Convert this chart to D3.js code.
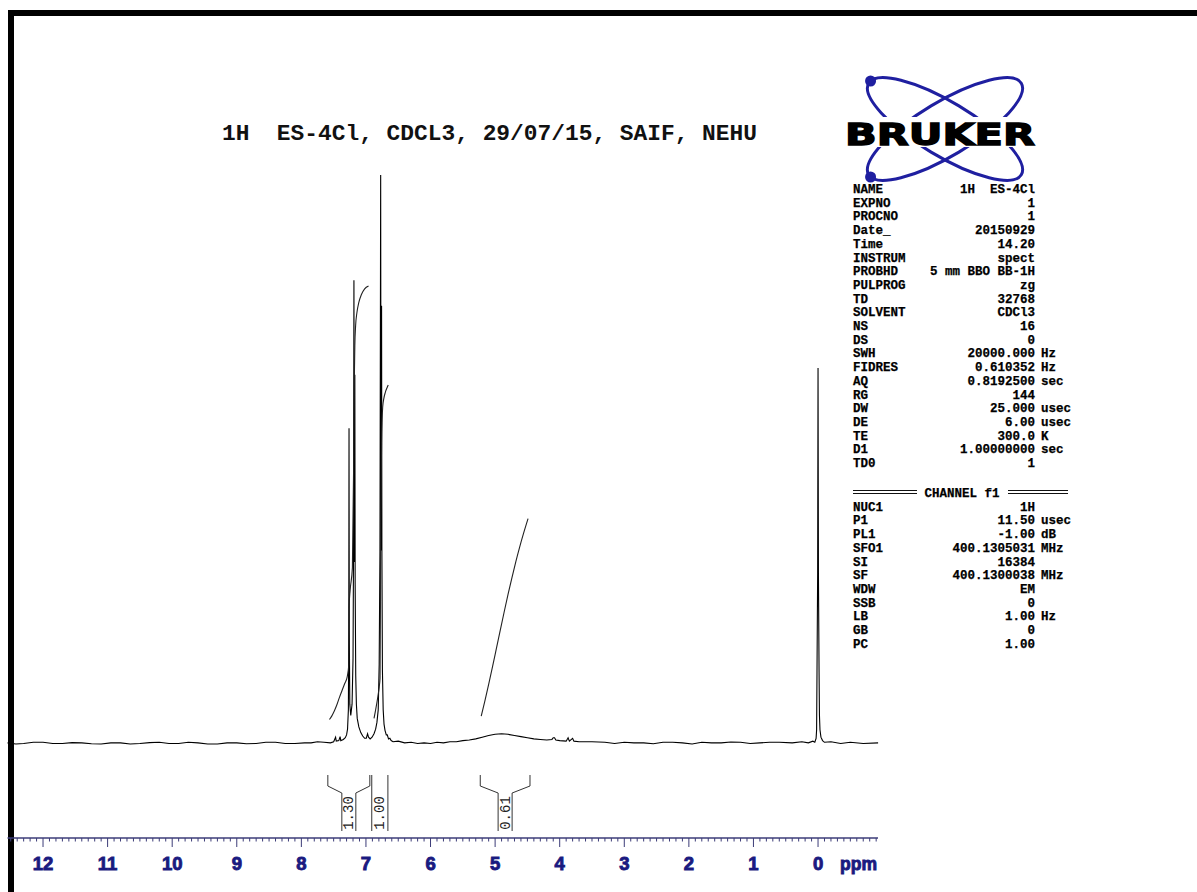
<!DOCTYPE html>
<html>
<head>
<meta charset="utf-8">
<script src="https://cdn.jsdelivr.net/npm/d3@7"></script>
<style>
  html, body { margin: 0; padding: 0; background: #fff; }
  svg { display: block; }
  text { white-space: pre; }
</style>
</head>
<body>
<svg id="chart" width="1197" height="892"></svg>
<script>
// ---- 1H spectrum trace: chemical shift (ppm) and relative intensity (tallest line = 100)
const tracePpm = [12.55,12.42,12.3,12.15,12.0,11.85,11.7,11.55,11.4,11.25,11.1,10.95,10.8,10.65,10.5,10.35,10.2,10.05,9.9,9.75,9.6,9.45,9.3,9.15,9.0,8.85,8.7,8.55,8.4,8.25,8.1,7.95,7.85,7.75,7.65,7.55,7.5,7.47,7.46,7.42,7.40,7.39,7.35,7.32,
  7.30,7.285,7.272,7.266,7.262,7.258,7.25,7.235,7.215,7.2,7.192,7.186,7.181,7.177,7.172,7.167,7.158,7.148,7.135,7.11,7.08,7.05,7.02,6.995,6.975,6.96,6.935,6.905,
  6.875,6.85,6.83,6.81,6.795,6.783,6.772,6.767,6.763,6.758,6.753,6.745,6.733,6.72,6.705,6.685,6.67,6.65,6.63,6.61,6.58,
  6.5,6.4,6.3,6.2,6.1,6.0,5.9,5.8,5.7,5.6,5.5,5.4,5.3,5.2,5.1,5.0,4.9,4.8,4.7,4.6,4.5,4.4,4.3,4.2,4.12,4.1,4.08,4.06,4.0,3.9,3.87,3.85,3.8,3.78,3.7,
  3.5,3.3,3.15,3.0,2.85,2.7,2.55,2.4,2.25,2.1,1.95,1.8,1.65,1.5,1.35,1.2,1.05,0.9,0.75,0.6,0.4,0.25,0.15,0.08,0.05,0.03,0.022,0.016,0.006,0.0,-0.006,-0.016,-0.022,-0.03,-0.045,-0.07,-0.1,-0.2,-0.35,-0.5,-0.7,-0.93];
const traceIntensity = [0.2,0.0,0.1,0.3,0.3,0.1,0.1,0.25,0.2,0.05,0.0,0.2,0.2,0.0,0.1,0.25,0.3,0.1,0.1,0.3,0.2,0.0,0.0,0.2,0.2,0.05,0.1,0.3,0.3,0.1,0.1,0.2,0.2,0.4,0.3,0.2,0.4,1.2,0.5,0.6,1.3,0.6,0.8,1.1,
  1.6,2.6,6,20,55.5,20,7,5,7,15,35,81.5,38,32,64.9,28,12,7,4.5,3,2,1.4,1.0,1.0,1.8,1.2,0.9,1.2,
  1.8,2.6,3.8,6,14,34,100,42,34,77,34,13,6,3.5,2.4,1.6,1.6,0.9,1.0,0.6,0.4,
  0.5,0.2,0.3,0.1,0.2,0.1,0.3,0.2,0.4,0.4,0.6,0.7,0.9,1.2,1.5,1.7,1.8,1.7,1.5,1.3,1.1,0.9,0.8,0.7,0.8,1.1,1.1,0.7,0.6,0.5,1.1,0.5,1.0,0.5,0.4,
  0.4,0.3,0.1,0.3,0.2,0.2,0.05,0.3,0.3,0.2,0.0,0.3,0.2,0.2,0.35,0.3,0.1,0.2,0.3,0.3,0.2,0.4,0.2,0.5,0.3,1.0,2.5,12.6,30,66.1,30,12.6,5,2.5,1.2,0.6,0.3,0.4,0.1,0.3,0.1,0.2];

// ---- integral curves (same intensity units)
const integral1Ppm = [7.565,7.53,7.49,7.45,7.41,7.37,7.33,7.29,7.265,7.262,7.245,7.21,7.19,7.18,7.172,7.16,7.14,7.11,7.07,7.02,6.96];
const integral1Val = [4.3,4.9,5.8,6.9,8.2,9.4,10.6,11.8,14,24,27,31,50,64,70,73.5,75.8,77.6,79,80,80.5];
const integral2Ppm = [6.875,6.85,6.82,6.795,6.782,6.775,6.772,6.765,6.758,6.75,6.74,6.725,6.7,6.67,6.655];
const integral2Val = [4.5,6,8,10,11.5,25,38,44,53,57,59.3,60.6,61.8,62.7,63.1];
const integral3Ppm = [5.215,5.16,5.1,5.04,4.98,4.92,4.86,4.8,4.74,4.68,4.62,4.56,4.49];
const integral3Val = [4.9,7.5,10.5,13.6,16.8,20,23.2,26.3,29.2,32,34.6,37,39.6];

// integration regions (ppm, from -> to) and their values
const integralFrom = [7.59, 6.91, 5.23];
const integralTo = [6.94, 6.66, 4.46];
const integralLabels = ["1.30", "1.00", "0.61"];

// ---- axis
const tickValues = [12, 11, 10, 9, 8, 7, 6, 5, 4, 3, 2, 1, 0];
const tickLabels = ["12", "11", "10", "9", "8", "7", "6", "5", "4", "3", "2", "1", "0"];
const axisUnit = "ppm";

// ---- title and parameter listing
const titleText = "1H  ES-4Cl, CDCL3, 29/07/15, SAIF, NEHU";
const acqNames = ["NAME","EXPNO","PROCNO","Date_","Time","INSTRUM","PROBHD","PULPROG","TD","SOLVENT","NS","DS","SWH","FIDRES","AQ","RG","DW","DE","TE","D1","TD0"];
const acqValues = ["1H  ES-4Cl","1","1","20150929","14.20","spect","5 mm BBO BB-1H","zg","32768","CDCl3","16","0","20000.000","0.610352","0.8192500","144","25.000","6.00","300.0","1.00000000","1"];
const acqUnits = ["","","","","","","","","","","","","Hz","Hz","sec","","usec","usec","K","sec",""];
const channelTitle = "CHANNEL f1";
const chanNames = ["NUC1","P1","PL1","SFO1","SI","SF","WDW","SSB","LB","GB","PC"];
const chanValues = ["1H","11.50","-1.00","400.1305031","16384","400.1300038","EM","0","1.00","0","1.00"];
const chanUnits = ["","usec","dB","MHz","","MHz","","","Hz","",""];
const brandName = "BRUKER";

// ---------------------------------------------------------------
const svg = d3.select("#chart");
svg.append("rect").attr("width", 1197).attr("height", 892).attr("fill", "#fff");

// frame (top and left edges)
svg.append("rect").attr("x", 8).attr("y", 10).attr("width", 1189).attr("height", 6).attr("fill", "#000");
svg.append("rect").attr("x", 8).attr("y", 10).attr("width", 6).attr("height", 882).attr("fill", "#000");

const x = d3.scaleLinear().domain([12.55, -0.93]).range([7.5, 878.1]);
const y = d3.scaleLinear().domain([0, 100]).range([744, 175]);

const line = d3.line().x(d => x(d[0])).y(d => y(d[1]));

// spectrum
const trace = d3.zip(tracePpm, traceIntensity);
svg.append("path").datum(trace)
  .attr("d", line).attr("fill", "none").attr("stroke", "#000").attr("stroke-width", 1.1);

// integral curves
[[integral1Ppm, integral1Val], [integral2Ppm, integral2Val], [integral3Ppm, integral3Val]].forEach(([p, v]) => {
  svg.append("path").datum(d3.zip(p, v))
    .attr("d", d3.line().x(d => x(d[0])).y(d => y(d[1])).curve(d3.curveMonotoneX))
    .attr("fill", "none").attr("stroke", "#222").attr("stroke-width", 1.1);
});

// integral brackets with values
const bTop = 775, bKnee = 786, bInner = 793, bBottom = 831, stemHalf = 7;
const brackets = svg.append("g").attr("stroke", "#333").attr("fill", "none").attr("stroke-width", 1);
integralLabels.forEach((lab, i) => {
  const xa = x(integralFrom[i]), xb = x(integralTo[i]);
  const mid = (xa + xb) / 2;
  let d;
  if ((xb - xa) / 2 <= stemHalf + 1.5) {
    d = `M${xa},${bTop}V${bBottom}M${xb},${bTop}V${bBottom}`;
  } else {
    d = `M${xa},${bTop}V${bKnee}L${mid - stemHalf},${bInner}V${bBottom}` +
        `M${xb},${bTop}V${bKnee}L${mid + stemHalf},${bInner}V${bBottom}`;
  }
  brackets.append("path").attr("d", d);
  svg.append("text")
    .attr("transform", `translate(${mid + 0.5},${(bInner + bBottom) / 2 + 1}) rotate(-90)`)
    .attr("text-anchor", "middle").attr("dominant-baseline", "central")
    .attr("font-family", "Liberation Mono, Courier New, monospace")
    .attr("font-size", 14).attr("fill", "#222").text(lab);
});

// ppm axis
const axisY = 838;
const ax = svg.append("g");
ax.append("line").attr("x1", 7.5).attr("x2", 878).attr("y1", axisY).attr("y2", axisY)
  .attr("stroke", "#3c3c78").attr("stroke-width", 1.3);
const minor = d3.range(125, -10, -1).map(v => v / 10);
ax.selectAll("line.minor").data(minor).join("line")
  .attr("x1", d => x(d)).attr("x2", d => x(d))
  .attr("y1", axisY).attr("y2", d => Math.abs(d - Math.round(d)) < 1e-6 ? axisY + 9 : axisY + 3.5)
  .attr("stroke", "#3c3c78").attr("stroke-width", 1);
const tickFont = { family: "Liberation Sans, Arial, sans-serif", size: 18.5, color: "#1a1a80" };
ax.selectAll("text.tick").data(tickValues).join("text")
  .attr("x", d => x(d)).attr("y", 870)
  .attr("text-anchor", "middle")
  .attr("font-family", tickFont.family).attr("font-weight", "bold")
  .attr("font-size", tickFont.size).attr("fill", tickFont.color)
  .attr("stroke", tickFont.color).attr("stroke-width", 0.9)
  .text((d, i) => tickLabels[i]);
ax.append("text").attr("x", 840).attr("y", 870)
  .attr("textLength", 37).attr("lengthAdjust", "spacingAndGlyphs")
  .attr("font-family", tickFont.family).attr("font-weight", "bold")
  .attr("font-size", tickFont.size).attr("fill", tickFont.color)
  .attr("stroke", tickFont.color).attr("stroke-width", 0.9).text(axisUnit);

// title
svg.append("text").attr("x", 222).attr("y", 140)
  .attr("textLength", 535).attr("lengthAdjust", "spacingAndGlyphs")
  .attr("font-family", "Liberation Mono, Courier New, monospace").attr("font-weight", "bold")
  .attr("font-size", 22.5).attr("fill", "#111").text(titleText);

// logo: two crossing orbits with electrons and the brand name
const logo = svg.append("g");
const cx = 945, cy = 129, rx = 89, ry = 27;
[31, -31].forEach(a => {
  logo.append("ellipse").attr("cx", cx).attr("cy", cy).attr("rx", rx).attr("ry", ry)
    .attr("transform", `rotate(${a},${cx},${cy})`)
    .attr("fill", "none").attr("stroke", "#1f1fa0").attr("stroke-width", 3);
});
function orbitPoint(angleDeg, tDeg) {
  const a = angleDeg * Math.PI / 180, t = tDeg * Math.PI / 180;
  const px = rx * Math.cos(t), py = ry * Math.sin(t);
  return [cx + px * Math.cos(a) - py * Math.sin(a), cy + px * Math.sin(a) + py * Math.cos(a)];
}
[orbitPoint(31, 186), orbitPoint(-31, 174)].forEach(p => {
  logo.append("circle").attr("cx", p[0]).attr("cy", p[1]).attr("r", 5.5).attr("fill", "#1f1fa0");
});
logo.append("rect").attr("x", 845).attr("y", 117).attr("width", 192).attr("height", 30).attr("fill", "#fff");
logo.append("text").attr("x", 845).attr("y", 145)
  .attr("textLength", 190).attr("lengthAdjust", "spacingAndGlyphs")
  .attr("font-family", "DejaVu Sans, sans-serif").attr("font-weight", "bold")
  .attr("font-size", 31).attr("fill", "#000").attr("stroke", "#000").attr("stroke-width", 1.4)
  .text(brandName);

// parameter listing
const parFont = "Liberation Mono, Courier New, monospace";
const labelX = 853, valueX = 1035, unitX = 1041, lineH = 13.7;
const pars = svg.append("g").attr("font-family", parFont).attr("font-weight", "bold")
  .attr("font-size", 12.5).attr("fill", "#000").attr("stroke", "#000").attr("stroke-width", 0.25);
function block(names, values, units, baseY) {
  names.forEach((n, i) => {
    const yy = baseY + i * lineH;
    pars.append("text").attr("x", labelX).attr("y", yy).text(n);
    pars.append("text").attr("x", valueX).attr("y", yy).attr("text-anchor", "end").text(values[i]);
    if (units[i]) pars.append("text").attr("x", unitX).attr("y", yy).text(units[i]);
  });
}
block(acqNames, acqValues, acqUnits, 193);
const chanY = 497;
pars.append("text").attr("x", 962).attr("y", chanY).attr("text-anchor", "middle").text(channelTitle);
[[853, 917], [1008, 1068]].forEach(([a, b]) => {
  [490.5, 493.5].forEach(yy => {
    svg.append("line").attr("x1", a).attr("x2", b).attr("y1", yy).attr("y2", yy)
      .attr("stroke", "#111").attr("stroke-width", 1);
  });
});
block(chanNames, chanValues, chanUnits, chanY + lineH);
</script>
</body>
</html>
